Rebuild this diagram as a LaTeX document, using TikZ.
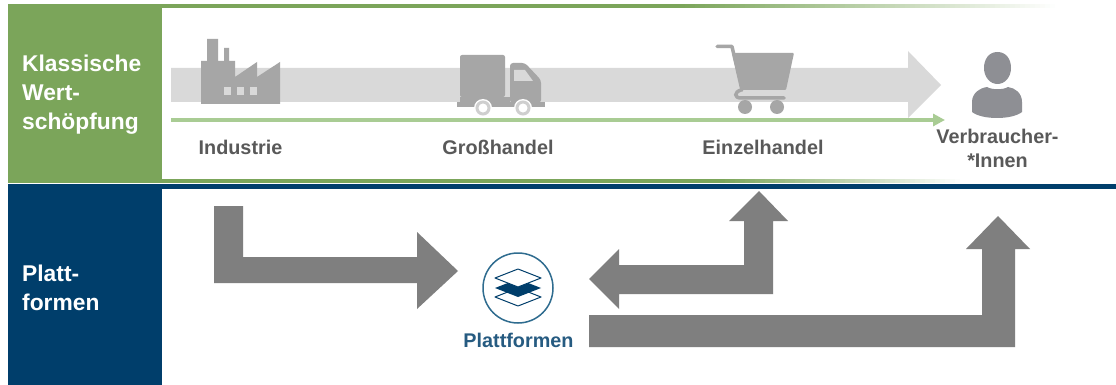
\documentclass[tikz,border=0pt]{standalone}
\usepackage{fontspec}
\setmainfont{Liberation Sans}
\usetikzlibrary{arrows.meta}
\definecolor{grn}{HTML}{7BA55A}
\definecolor{lgrn}{HTML}{A9CC94}
\definecolor{navy}{HTML}{003E6B}
\definecolor{gry}{HTML}{7F7F7F}
\definecolor{icon}{HTML}{A6A6A6}
\definecolor{band}{HTML}{D9D9D9}
\definecolor{pers}{HTML}{8E8F94}
\definecolor{lbl}{HTML}{595959}
\definecolor{ring}{HTML}{2F6C8F}
\tikzset{
  sidetext/.style={text=white,font=\bfseries\fontsize{22.8}{29}\selectfont,align=left,anchor=west,inner sep=0pt},
  steplabel/.style={text=lbl,font=\bfseries\fontsize{19.8}{24}\selectfont,align=center,inner sep=0pt},
  flowarrow/.style={fill=gry,draw=none},
  iconshape/.style={fill=icon,draw=none},
  cutout/.style={fill=band,draw=none},
}
\begin{document}
\begin{tikzpicture}[x=1pt,y=-1pt]
\useasboundingbox (0,0) rectangle (1116,385);
\fill[white] (0,0) rectangle (1116,385);
% frame lines, fading out to the right
\fill[grn] (8,4) rectangle (680,8);
\foreach \i in {0,...,75}{
  \pgfmathsetmacro{\p}{100-\i*100/75}
  \fill[grn!\p!white] ({680+\i*5},4) rectangle ({685.5+\i*5},8);
}
\fill[grn] (8,179) rectangle (720,183);
\foreach \i in {0,...,48}{
  \pgfmathsetmacro{\p}{100-\i*100/48}
  \fill[grn!\p!white] ({720+\i*5},179) rectangle ({725.5+\i*5},183);
}
\fill[navy] (8,184) rectangle (1116,189);
% side blocks
\fill[grn] (8,4) rectangle (162,183);
\fill[navy] (8,184) rectangle (162,385);
\node[sidetext] (klassisch) at (22,95) {Klassische\\Wert-\\schöpfung};
\node[sidetext] (platt) at (22,288) {Platt-\\formen};
% grey band arrow
\fill[band] (171,68) -- (908,68) -- (908,51) -- (941,85) -- (908,118) -- (908,102) -- (171,102) -- cycle;
% green line
\coordinate (gstart) at (171,120);
\coordinate (gend) at (945,120);
\draw[lgrn,line width=3.5pt,-{Triangle[length=12pt,width=12pt]}] (gstart) -- (gend);
% factory
\fill[iconshape] (201,61) -- (207,61) -- (207,39) -- (218,39) -- (218,61) -- (224,61) -- (224,48) -- (229,48) -- (229,61) -- (235,61) -- (235,77) -- (257,62) -- (257,77) -- (280,62) -- (280,104) -- (201,104) -- cycle;
\fill[cutout] (224,87) rectangle (231,95);
\fill[cutout] (237,87) rectangle (244,95);
\fill[cutout] (250,87) rectangle (257,95);
% truck
\fill[iconshape,rounded corners=2pt] (460,55) rectangle (505,97);
\fill[iconshape,rounded corners=3pt] (510,63) -- (525,63) -- (541,80) -- (541,103) -- (510,103) -- cycle;
\fill[iconshape] (460,97) rectangle (510,102);
\fill[iconshape] (457,102) rectangle (545,107);
\fill[cutout] (514,70) -- (525,70) -- (533,81) -- (514,81) -- cycle;
\fill[white] (483,108) circle (9);
\fill[white] (523,108) circle (9);
\draw[band!80!icon,line width=3pt,fill=white] (483,108) circle (6);
\draw[band!80!icon,line width=3pt,fill=white] (523,108) circle (6);
% cart
\draw[icon,line width=3.5pt,line cap=round,line join=round] (717,46.5) -- (732,46.5) -- (742,90);
\fill[iconshape,rounded corners=1pt] (732,53) -- (794,53) -- (786,90) -- (741,90) -- cycle;
\draw[icon,line width=3.5pt,line cap=round] (741,90) .. controls (734,92) and (734,98) .. (741,98) -- (784,98);
\fill[iconshape] (745,107) circle (7);
\fill[iconshape] (777,107) circle (7);
% person
\fill[pers] (997.5,52) .. controls (1006,52) and (1011,59) .. (1011,68) .. controls (1011,77) and (1005,84) .. (997.5,84) .. controls (990,84) and (984,77) .. (984,68) .. controls (984,59) and (989,52) .. (997.5,52) -- cycle;
\fill[pers] (987,87) .. controls (992,90) and (1003,90) .. (1008,87) .. controls (1015,88) and (1022,93) .. (1022,102) -- (1022,112) .. controls (1012,120) and (982,120) .. (972,112) -- (972,102) .. controls (972,93) and (980,88) .. (987,87) -- cycle;
% labels
\node[steplabel] (ind) at (240.5,147) {Industrie};
\node[steplabel] (gross) at (498,147) {Großhandel};
\node[steplabel] (einz) at (763,147) {Einzelhandel};
\node[steplabel] (verb) at (997.5,148) {Verbraucher-\\*Innen};
% flow arrows
\fill[flowarrow] (214,206) -- (243,206) -- (243,257) -- (417,257) -- (417,232) -- (458,271) -- (417,309) -- (417,283) -- (214,283) -- cycle;
\fill[flowarrow] (619,265) -- (744,265) -- (744,221) -- (729,221) -- (759,191) -- (788,221) -- (773,221) -- (773,294) -- (619,294) -- (619,309) -- (589,279) -- (619,249) -- cycle;
\fill[flowarrow] (589,315) -- (982,315) -- (982,249) -- (966,249) -- (998,216) -- (1030,249) -- (1015,249) -- (1015,347) -- (589,347) -- cycle;
% platform icon
\node[circle,draw=ring,line width=1.5pt,minimum size=70pt,inner sep=0pt] (plat) at (518,288) {};
\draw[navy,line width=1pt,fill=white,line join=round] (495,297) -- (518,306) -- (541,297) -- (518,288) -- cycle;
\fill[navy] (495,288) -- (518,297) -- (541,288) -- (518,279) -- cycle;
\draw[navy,line width=1pt,fill=white,line join=round] (495,278) -- (518,269) -- (541,278) -- (518,287) -- cycle;
\node[inner sep=0pt,text=navy!85!white,font=\bfseries\fontsize{19.8}{22}\selectfont] (pl) at (518.5,340) {Plattformen};
\end{tikzpicture}
\end{document}
